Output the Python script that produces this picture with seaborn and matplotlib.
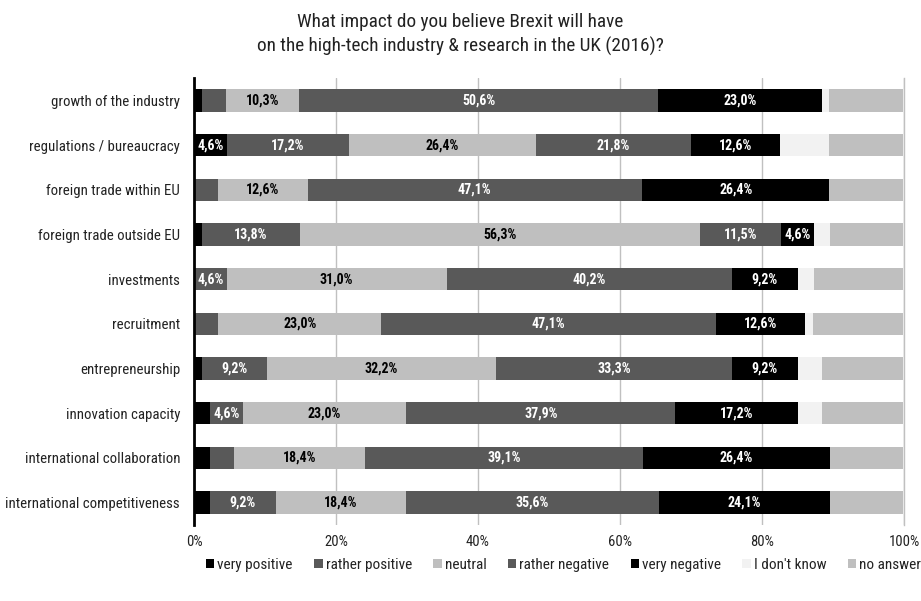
import os
import matplotlib
matplotlib.use("Agg")
import matplotlib.pyplot as plt
from matplotlib.patches import Patch
from matplotlib import font_manager
import numpy as np
import pandas as pd
import seaborn as sns

# Survey items (top to bottom)
items = [
    "growth of the industry",
    "regulations / bureaucracy",
    "foreign trade within EU",
    "foreign trade outside EU",
    "investments",
    "recruitment",
    "entrepreneurship",
    "innovation capacity",
    "international collaboration",
    "international competitiveness",
]

categories = ["very positive", "rather positive", "neutral", "rather negative",
              "very negative", "I don't know", "no answer"]

# Share of respondents per answer (%)
very_positive = [1.1, 4.6, 0.0, 1.1, 0.0, 0.0, 1.1, 2.3, 2.3, 2.3]
rather_positive = [3.4, 17.2, 3.4, 13.8, 4.6, 3.4, 9.2, 4.6, 3.4, 9.2]
neutral = [10.3, 26.4, 12.6, 56.3, 31.0, 23.0, 32.2, 23.0, 18.4, 18.4]
rather_negative = [50.6, 21.8, 47.1, 11.5, 40.2, 47.1, 33.3, 37.9, 39.1, 35.6]
very_negative = [23.0, 12.6, 26.4, 4.6, 9.2, 12.6, 9.2, 17.2, 26.4, 24.1]
dont_know = [1.1, 6.9, 0.0, 2.3, 2.3, 1.1, 3.4, 3.4, 0.0, 0.0]
no_answer = [10.3, 10.3, 10.3, 10.3, 12.6, 12.6, 11.5, 11.5, 10.3, 10.3]

xticks = [0, 20, 40, 60, 80, 100]
xtick_labels = ["0%", "20%", "40%", "60%", "80%", "100%"]

colors = ["#000000", "#595959", "#bfbfbf", "#595959", "#000000", "#f2f2f2", "#bfbfbf"]
label_colors = ["white", "white", "black", "white", "white", None, None]

sns.set_theme(style="white")


def narrow_font_files():
    """Pick a regular and a bold file of a condensed sans-serif face, if any."""
    entries = font_manager.fontManager.ttflist

    def is_narrow(f):
        key = (f.name + " " + os.path.basename(f.fname)).lower()
        return ("narrow" in key or "condensed" in key
                or str(f.stretch) in ("condensed", "semi-condensed", "extra-condensed"))

    def is_italic(f):
        key = os.path.basename(f.fname).lower()
        return f.style != "normal" or "italic" in key or "oblique" in key

    def weight(f):
        w = f.weight
        if isinstance(w, str):
            w = font_manager.weight_dict.get(w, 400)
        return w

    narrow = [f for f in entries if is_narrow(f) and not is_italic(f)]
    preference = ["liberation sans narrow", "arial narrow", "roboto condensed",
                  "open sans condensed", "noto sans", "dejavu sans", "roboto",
                  "open sans", "lato", "inter"]
    for pref in preference:
        group = [f for f in narrow if f.name.lower().startswith(pref)]
        # avoid extra/ultra condensed when a plain condensed exists
        plain = [f for f in group if "extra" not in f.fname.lower()
                 and "ultra" not in f.fname.lower() and "semi" not in f.fname.lower()]
        group = plain or group
        regular = [f for f in group if 350 <= weight(f) <= 450]
        bold = [f for f in group if 650 <= weight(f) <= 750]
        if regular:
            reg = regular[0].fname
            bld = bold[0].fname if bold else reg
            return reg, bld
    return None, None


reg_file, bold_file = narrow_font_files()
if reg_file:
    base_prop = font_manager.FontProperties(fname=reg_file)
    bold_prop = font_manager.FontProperties(fname=bold_file)
    scale = 1.0
else:
    base_prop = font_manager.FontProperties(family="Liberation Sans")
    bold_prop = font_manager.FontProperties(family="Liberation Sans", weight="bold")
    scale = 0.85


def fp(prop, size):
    p = prop.copy()
    p.set_size(size * scale)
    return p


values = pd.DataFrame(
    dict(zip(categories, [very_positive, rather_positive, neutral, rather_negative,
                          very_negative, dont_know, no_answer])),
    index=items,
)
cumulative = values.cumsum(axis=1)
starts = cumulative - values

fig = plt.figure(figsize=(9.21, 6.01), dpi=100)
ax = fig.add_axes([0.2106, 0.1265, 0.7710, 0.7437])

# stacked bars: draw cumulative totals from the outermost segment inwards
for cat, col in reversed(list(zip(categories, colors))):
    df = pd.DataFrame({"item": items, "end": cumulative[cat].values})
    sns.barplot(data=df, x="end", y="item", order=items, orient="h",
                color=col, width=0.5, linewidth=0, saturation=1, ax=ax)

# value labels
for cat, lc in zip(categories, label_colors):
    if lc is None:
        continue
    for i, item in enumerate(items):
        v = values.loc[item, cat]
        if v >= 4.5:
            x = starts.loc[item, cat] + v / 2
            ax.text(x, i, f"{v:.1f}%".replace(".", ","), ha="center", va="center",
                    color=lc, fontproperties=fp(bold_prop, 10))

ax.set_xlim(0, 100)
ax.set_ylim(9.5, -0.5)
ax.set_xticks(xticks)
ax.set_xticklabels(xtick_labels, fontproperties=fp(base_prop, 10.5), color="#222222")
ax.set_yticks(range(len(items)))
ax.set_yticklabels(items, fontproperties=fp(base_prop, 10.7), color="#222222")
ax.set_xlabel("")
ax.set_ylabel("")
ax.tick_params(axis="y", length=4, width=1.5, color="black", direction="out", pad=6)
ax.tick_params(axis="x", length=0, pad=7)
ax.xaxis.grid(True, color="#c0c0c0", linewidth=1)
ax.set_axisbelow(True)
for side in ["top", "bottom"]:
    ax.spines[side].set_visible(False)
ax.spines["right"].set_color("#c0c0c0")
ax.spines["right"].set_linewidth(1)
ax.spines["left"].set_color("black")
ax.spines["left"].set_linewidth(2)
ax.spines["left"].set_zorder(5)

fig.suptitle("What impact do you believe Brexit will have\n"
             "on the high-tech industry & research in the UK (2016)?",
             y=0.978, fontproperties=fp(base_prop, 13.9), color="#222222",
             linespacing=1.4)

handles = [Patch(facecolor=c, edgecolor="none", label=cat) for cat, c in zip(categories, colors)]
fig.legend(handles=handles, loc="center", bbox_to_anchor=(0.612, 0.06), ncol=7,
           frameon=False, prop=fp(base_prop, 11), handlelength=0.55, handleheight=0.55,
           handletextpad=0.2, columnspacing=1.4, labelcolor="#222222")

fig.savefig("out.png", dpi=100)
